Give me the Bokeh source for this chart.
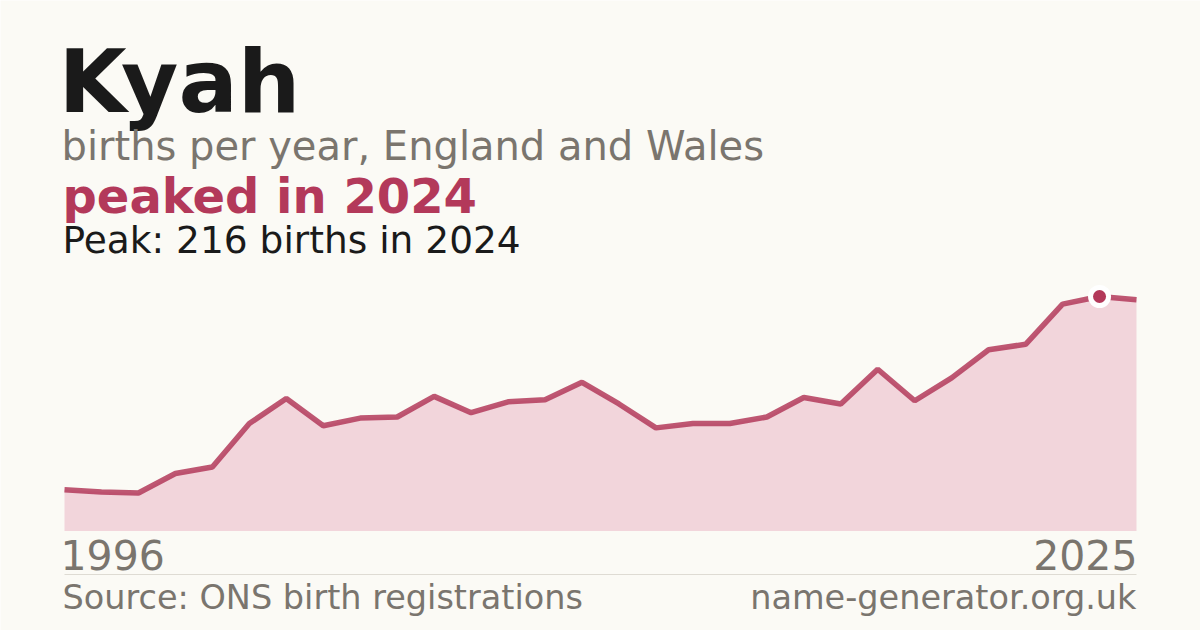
from bokeh.plotting import figure
from bokeh.models import Range1d, Label, BoxAnnotation, ColumnDataSource
from bokeh.embed import file_html
from bokeh.resources import INLINE

# ---- data ----
name = "Kyah"
years = list(range(1996, 2026))
births = [38, 36, 35, 53, 59, 99, 122, 97, 104, 105,
          124, 109, 119, 121, 137, 117, 95, 99, 99, 105,
          123, 117, 149, 120, 141, 167, 172, 209, 216, 213]
peak_year = 2024
peak_value = 216

# ---- layout (canvas pixels) ----
W, H = 1200, 630
BG = "#fbfaf5"
CRIMSON = "#b3395a"
FILL = "#f2d5db"
GRAY = "#7a756e"
DARK = "#1a1a1a"

left_px, right_px = 64, 1136      # x of first / last year
base_px = 99.5                    # y of zero from bottom
peak_px = 334                     # y of peak from bottom
xs = (right_px - left_px) / (years[-1] - years[0])
ys = (peak_px - base_px) / peak_value

p = figure(width=W, height=H, output_backend="svg", toolbar_location=None,
           min_border=0, min_border_left=0, min_border_right=0,
           min_border_top=0, min_border_bottom=0,
           x_range=Range1d(years[0] - left_px / xs, years[-1] + (W - right_px) / xs),
           y_range=Range1d(-base_px / ys, (H - base_px) / ys))
p.axis.visible = False
p.grid.visible = False
p.outline_line_color = None
p.background_fill_color = BG
p.border_fill_color = BG

src = ColumnDataSource(dict(x=years, y=births, y0=[0] * len(years)))
p.varea(x="x", y1="y0", y2="y", source=src, fill_color=FILL)
p.line(x="x", y="y", source=src, line_color=CRIMSON, line_width=5.5, line_alpha=0.85)
p.scatter(x=[peak_year], y=[peak_value], size=23, fill_color="white", line_color=None)
p.scatter(x=[peak_year], y=[peak_value], size=13, fill_color=CRIMSON, line_color=None)

K = 0.35  # baseline correction (fraction of font size)

def lab(text, x, base_from_top, size, color, bold=False, align="left"):
    y = H - base_from_top + K * size
    p.add_layout(Label(x=x, y=y, x_units="screen", y_units="screen", text=text,
                       text_font="DejaVu Sans", text_font_size=f"{size}px",
                       text_font_style="bold" if bold else "normal",
                       text_color=color, text_align=align, text_baseline="alphabetic"))

lab(name, 58, 112, 88, DARK, bold=True)
lab("births per year, England and Wales", 61, 159, 40, GRAY)
lab(f"peaked in {peak_year}", 62, 212, 48, CRIMSON, bold=True)
lab(f"Peak: {peak_value} births in {peak_year}", 62, 253, 37.5, DARK)
lab(str(years[0]), 60, 569, 41, GRAY)
lab(str(years[-1]), 1137, 569, 41, GRAY, align="right")
lab("Source: ONS birth registrations", 62, 609, 33.5, GRAY)
lab("name-generator.org.uk", 1136, 609, 33.5, GRAY, align="right")

p.add_layout(BoxAnnotation(left=64, right=1136, bottom=55.5, top=56.5,
                           left_units="screen", right_units="screen",
                           bottom_units="screen", top_units="screen",
                           fill_color="#dedbd3", fill_alpha=1, line_color=None))

html = file_html(p, INLINE)
html = html.replace("<body>", f'<body style="background:{BG}">', 1)
open("out.html", "w").write(html)
